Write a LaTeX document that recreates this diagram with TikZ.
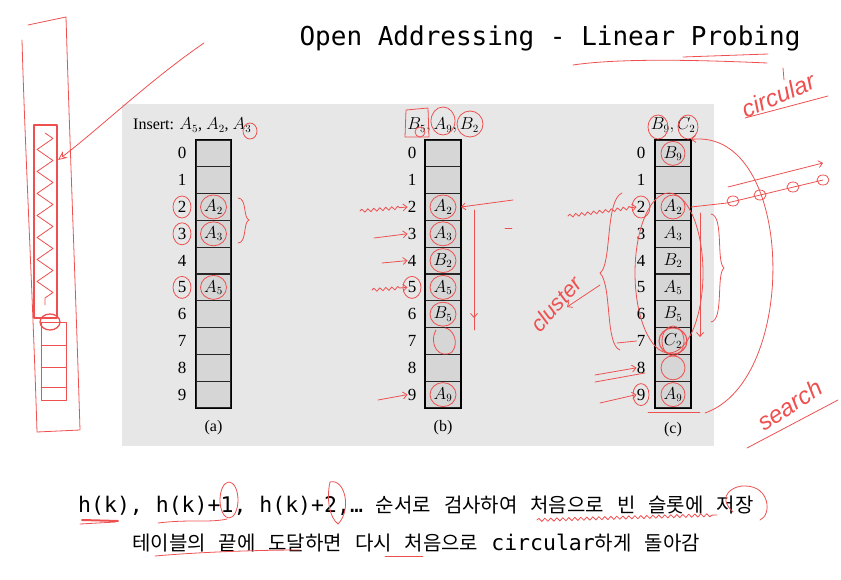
\documentclass[tikz,border=0pt]{standalone}
\usepackage{fontspec}
\setmainfont{Liberation Serif}
\setmonofont{DejaVu Sans Mono}
\newfontfamily\krfont{Noto Sans CJK KR}
\newfontfamily\handfont{Liberation Sans}
\usetikzlibrary{arrows.meta,decorations.pathmorphing}

\definecolor{panelgray}{RGB}{231,231,231}
\definecolor{cellgray}{RGB}{214,214,214}
\definecolor{inkred}{RGB}{238,80,80}

\newcommand{\kr}[1]{{\krfont\fontsize{20}{22}\selectfont #1}}

\tikzset{
  cell/.style={draw=black!85, line width=1.1pt, fill=cellgray, minimum width=35pt, minimum height=26.8pt, inner sep=0pt, font=\fontsize{16}{16}\selectfont},
  idx/.style={inner sep=0pt, font=\fontsize{17}{17}\selectfont},
  tabletext/.style={inner sep=0pt, font=\fontsize{16}{16}\selectfont},
  ink/.style={draw=inkred, line width=0.8pt, line cap=round, line join=round},
  inkarrow/.style={ink, -{Straight Barb[length=4pt,width=7pt]}},
  squig/.style={ink, decorate, decoration={snake, amplitude=1.6pt, segment length=6pt, post length=5pt}},
  handtext/.style={text=inkred, inner sep=0pt, font=\handfont\itshape\fontsize{24}{24}\selectfont}
}

\begin{document}
\begin{tikzpicture}[x=1pt,y=-1pt]
\useasboundingbox (0,0) rectangle (841,580);

\node[anchor=base, font=\ttfamily\fontsize{26}{26}\selectfont] (title) at (550,46) {Open Addressing - Linear Probing};

\fill[panelgray] (122,104) rectangle (714,446);

% table (a)
\node[tabletext, anchor=base west] (heada) at (133,130) {Insert: $A_5$, $A_2$, $A_3$};
\foreach \i/\t in {0/{},1/{},2/{$A_2$},3/{$A_3$},4/{},5/{$A_5$},6/{},7/{},8/{},9/{}} {
  \node[cell] (a\i) at (213.5,153.4+26.8*\i) {\t};
  \node[idx] (ai\i) at (182,153.4+26.8*\i) {\i};
}
\draw[line width=1.4pt] (a0.north west) rectangle (a9.south east);
\node[tabletext] (capa) at (213.5,428) {(a)};

% table (b)
\node[tabletext, anchor=base] (headb) at (443,130) {$B_5, A_9, B_2$};
\foreach \i/\t in {0/{},1/{},2/{$A_2$},3/{$A_3$},4/{$B_2$},5/{$A_5$},6/{$B_5$},7/{},8/{},9/{$A_9$}} {
  \node[cell] (b\i) at (443,153.4+26.8*\i) {\t};
  \node[idx] (bi\i) at (412,153.4+26.8*\i) {\i};
}
\draw[line width=1.4pt] (b0.north west) rectangle (b9.south east);
\node[tabletext] (capb) at (443,428) {(b)};

% table (c)
\node[tabletext, anchor=base] (headc) at (673,130) {$B_9, C_2$};
\foreach \i/\t in {0/{$B_9$},1/{},2/{$A_2$},3/{$A_3$},4/{$B_2$},5/{$A_5$},6/{$B_5$},7/{$C_2$},8/{},9/{$A_9$}} {
  \node[cell] (c\i) at (673,153.4+26.8*\i) {\t};
  \node[idx] (ci\i) at (641,153.4+26.8*\i) {\i};
}
\draw[line width=1.4pt] (c0.north west) rectangle (c9.south east);
\node[tabletext] (capc) at (673,430) {(c)};

% bottom lines
\node[anchor=base west, inner sep=0pt, font=\ttfamily\fontsize{21.5}{24}\selectfont] (line1) at (78,512)
  {h(k), h(k)+1, h(k)+2,… \kr{순서로} \kr{검사하여} \kr{처음으로} \kr{빈} \kr{슬롯에} \kr{저장}};
\node[anchor=base west, inner sep=0pt, font=\ttfamily\fontsize{21.5}{24}\selectfont] (line2) at (132,550)
  {\kr{테이블의} \kr{끝에} \kr{도달하면} \kr{다시} \kr{처음으로} circular\kr{하게} \kr{돌아감}};

% pen marks: left sketch
\draw[ink] (28,25) -- (66,17) .. controls (70,150) and (76,300) .. (80,430) -- (37,432) .. controls (33,300) and (25,150) .. (22,40);
\draw[ink, line width=1.3pt] (34,125) rectangle (57,318);
\draw[ink, decorate, decoration={zigzag, amplitude=8pt, segment length=22pt}] (45,133) -- (45,305);
\draw[ink, line width=1.3pt] (50,322) ellipse (10pt and 8pt);
\draw[ink, line width=0.5pt] (41,322) rectangle (66,400) (41,345) -- (66,345) (41,367) -- (66,367) (41,387) -- (66,387);
\coordinate (sketch) at (58,160);
\draw[ink, -{Stealth[open,length=9pt,width=8pt]}] (204,43) .. controls (150,80) and (100,128) .. (sketch);

% pen marks: title
\draw[ink] (573,65) .. controls (620,58) and (700,60) .. (767,63);
\draw[ink] (683,57) -- (768,54);
\draw[ink] (783,68) -- (784,80);

% pen marks: table (a)
\draw[ink] (250,131) ellipse (7pt and 8pt);
\foreach \i in {2,3,5} {
  \draw[ink] (ai\i) ellipse (9pt and 11pt);
  \draw[ink] (a\i) ellipse (13pt and 12pt);
}
\draw[ink] (238,198) .. controls (247,198) and (243,218) .. (249,220) .. controls (243,222) and (247,243) .. (238,243);

% pen marks: table (b)
\draw[ink] (406,110) -- (428,108) -- (429,137) -- (405,137) -- cycle;
\draw[ink] (420,132) circle (5pt);
\draw[ink] (443,121) ellipse (12pt and 14pt);
\draw[ink] (470,124) ellipse (13pt and 13pt);
\foreach \i in {2,3,4,5,6,9} {
  \draw[ink] (b\i) ellipse (13pt and 12pt);
}
\draw[ink] (436,330) .. controls (428,345) and (440,360) .. (452,352) .. controls (460,342) and (452,328) .. (445,328);
\draw[ink] (bi5) ellipse (9pt and 11pt);
\draw[squig, -{Straight Barb[length=4pt,width=7pt]}] (360,211) -- (bi2.west);
\draw[inkarrow] (374,238) -- (bi3.west);
\draw[inkarrow] (382,263) -- (bi4.west);
\draw[squig, -{Straight Barb[length=4pt,width=7pt]}] (372,290) -- (bi5.west);
\draw[inkarrow] (378,400) -- (bi9.west);
\draw[inkarrow] (513,200) -- (b2.east);
\draw[ink] (474,210) -- (474,330);
\draw[inkarrow] (474,300) -- (474,318);
\draw[ink] (505,228) -- (512,228);
\node[handtext, rotate=48, font=\handfont\itshape\fontsize{22}{22}\selectfont] (cluster) at (556,304) {cluster};
\draw[inkarrow] (600,285) -- (567,307);

% pen marks: table (c)
\draw[ink] (658,127) ellipse (10pt and 12pt);
\draw[ink] (688,127) ellipse (10pt and 12pt);
\foreach \i in {0,2,8,9} {
  \draw[ink] (c\i) ellipse (12pt and 12pt);
}
\draw[ink, line width=1.1pt] (c7) ellipse (14pt and 13pt);
\draw[ink] (c7) ellipse (11pt and 15pt);
\draw[ink] (ci2) ellipse (9pt and 11pt);
\draw[ink] (ci9) ellipse (8pt and 11pt);
\draw[ink] (669,273) ellipse (34pt and 80pt);
\draw[inkarrow] (700,213) -- (700,337);
\draw[ink] (622,193) .. controls (605,200) and (612,265) .. (600,273) .. controls (612,285) and (605,345) .. (620,350);
\draw[ink] (617,343) -- (ci7.west);
\draw[squig, -{Straight Barb[length=4pt,width=7pt]}] (568,216) -- (ci2.west);
\draw[inkarrow] (595,375) -- (ci8.west);
\draw[ink] (595,382) -- (645,373);
\draw[inkarrow] (600,403) -- (ci9.west);
\draw[ink] (711,214) .. controls (724,216) and (716,262) .. (724,268) .. controls (716,274) and (724,320) .. (711,322);
\draw[ink] (648,412) -- (700,412);
\draw[inkarrow] (705,413) .. controls (800,380) and (795,128) .. (c0.north east);
\draw[inkarrow] (728,187) -- (823,163);
\draw[ink] (c2.east) -- (727,203) -- (823,180);
\foreach \p in {(733,201),(760,195),(793,187),(823,180)} {
  \draw[ink] \p ellipse (6pt and 5pt);
}
\node[handtext, rotate=23] (circular) at (778,95) {circular};
\draw[ink] (745,118) -- (828,96);
\node[handtext, rotate=33] (search) at (790,405) {search};
\draw[ink] (747,448) -- (838,400);

% pen marks: bottom text
\draw[ink, line width=2pt] (82,520) -- (118,521);
\draw[ink] (80,524) -- (116,522);
\draw[ink] (158,523) .. controls (190,519) and (210,523) .. (227,519);
\draw[ink] (229,500) ellipse (9pt and 18pt);
\draw[ink] (330,482) .. controls (345,478) and (352,510) .. (338,524) .. controls (330,518) and (326,500) .. (330,482);
\draw[ink] (155,556) .. controls (200,552) and (260,550) .. (300,550);
\draw[ink] (385,556) -- (423,556);
\draw[squig] (537,520) -- (717,515);
\draw[ink] (733,512) .. controls (715,495) and (735,485) .. (745,486) .. controls (770,486) and (772,515) .. (760,520);
\end{tikzpicture}
\end{document}
